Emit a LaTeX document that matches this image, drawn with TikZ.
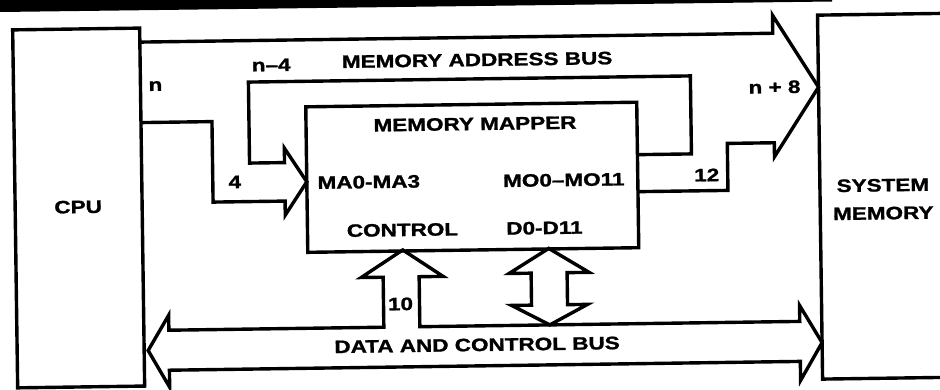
\documentclass[tikz,border=0pt]{standalone}
\usepackage{fontspec}
\setmainfont{Liberation Sans}[BoldFeatures={FakeBold=1.2}]
\usepackage{graphicx}
\newcommand\tx[1]{\scalebox{1.25}[1]{#1}}
\begin{document}
\begin{tikzpicture}[x=1pt,y=-1pt,
  ln/.style={line width=3.4pt, line join=miter, line cap=butt},
  box/.style={draw, ln, rectangle, inner sep=0pt},
  lbl/.style={font=\fontsize{18}{28}\selectfont\bfseries, inner sep=0pt, align=center}]
\useasboundingbox (0,0) rectangle (940,389);
% scan edge at top
\fill (0,0) -- (832,0) -- (832,1.5) -- (0,12) -- cycle;
\begin{scope}[rotate around={0.8:(470,195)}, transform shape]
  % blocks
  \node[box, minimum width=127pt, minimum height=358pt] (cpu) at (78.5,202.5) {};
  \node[lbl] (cputxt) at (78,201.5) {\tx{CPU}};
  \node[box, minimum width=126pt, minimum height=364pt] (mem) at (883,202) {};
  \node[lbl] (memtxt) at (883,205) {\tx{SYSTEM}\\\tx{MEMORY}};
  \node[box, minimum width=331pt, minimum height=145.5pt] (map) at (472.5,177.3) {};
  % memory address bus (wide arrow)
  \draw[ln] (142,37.5) -- (775,37.5) -- (775,19.5) -- (820,92) -- (775,161)
        -- (775,147) -- (728,147) -- (728,194) -- (638,194);
  \draw[ln] (638,157) -- (692,157) -- (692,79) -- (250,79) -- (250,160)
        -- (285,160) -- (285,145.5) -- (307,179.5) -- (285,212.5) -- (285,198.5)
        -- (213,198.5) -- (213,118) -- (142,118);
  % data and control bus
  \draw[ln] (146,346) -- (167,311) -- (167,326) -- (382,326) -- (382,276)
        -- (360,276) -- (402,249) -- (442,276) -- (418,276) -- (418,326)
        -- (798,326) -- (798,310) -- (820,347.5) -- (798,385) -- (798,366)
        -- (167,366) -- (167,383) -- cycle;
  % D0-D11 double arrow
  \draw[ln] (548,249.5) -- (588,274) -- (566,274) -- (566,306) -- (586,306)
        -- (548,326) -- (510,306) -- (530,306) -- (530,274) -- (508,274) -- cycle;
  % labels
  \node[lbl] (lmab) at (479,60) {\tx{MEMORY ADDRESS BUS}};
  \node[lbl] (lmm) at (476,124) {\tx{MEMORY MAPPER}};
  \node[lbl] (lma) at (369,180.6) {\tx{MA0-MA3}};
  \node[lbl] (lmo) at (564,181.3) {\tx{MO0–MO11}};
  \node[lbl] (lctl) at (402,229) {\tx{CONTROL}};
  \node[lbl] (ld) at (544,229) {\tx{D0-D11}};
  \node[lbl] (ldcb) at (475,345) {\tx{DATA AND CONTROL BUS}};
  \node[lbl] (ln) at (157,81.6) {\tx{n}};
  \node[lbl] (lnm4) at (273,62.2) {\tx{n–4}};
  \node[lbl] (l4) at (235,178.7) {\tx{4}};
  \node[lbl] (lnp8) at (776,91.3) {\tx{n + 8}};
  \node[lbl] (l12) at (707,178.3) {\tx{12}};
  \node[lbl] (l10) at (399,303) {\tx{10}};
\end{scope}
\end{tikzpicture}
\end{document}
